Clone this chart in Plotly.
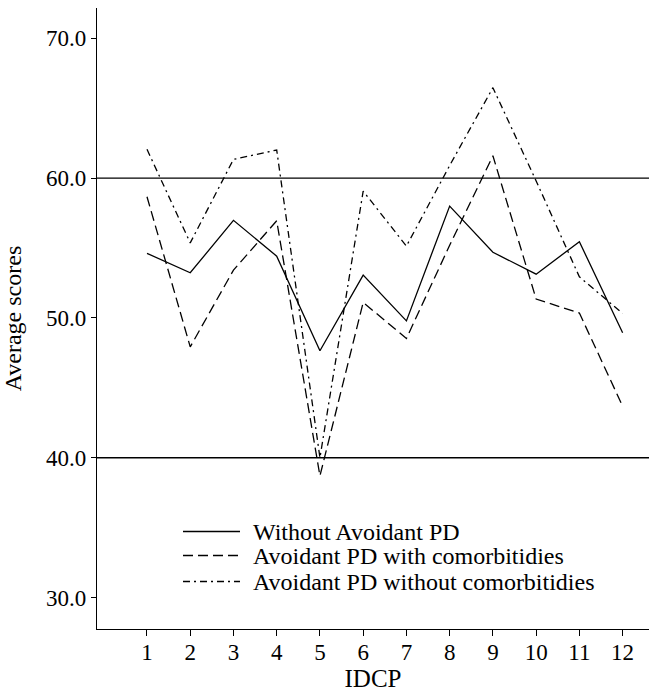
import plotly.graph_objects as go

idcp = list(range(1, 13))
tick_labels = [str(i) for i in idcp]
series_names = ["Without Avoidant PD",
                "Avoidant PD with comorbitidies",
                "Avoidant PD without comorbitidies"]
without_apd = [54.62, 53.23, 56.98, 54.42, 47.65, 53.06, 49.79, 58.0, 54.7, 53.13, 55.45, 48.94]
apd_with = [58.67, 47.93, 53.42, 56.95, 38.7, 51.11, 48.53, 55.2, 61.6, 51.35, 50.35, 43.69]
apd_without = [62.06, 55.37, 61.34, 62.01, 40.0, 59.07, 55.14, 60.9, 66.47, 59.8, 52.94, 50.32]
ref_lines = [60, 40]
y_ticks = [30, 40, 50, 60, 70]

FONT = "Liberation Serif, Times New Roman, serif"
dashes = ["solid", "10px,5px", "7px,4px,2px,4px"]
series = [without_apd, apd_with, apd_without]

fig = go.Figure()
for name, vals, d in zip(series_names, series, dashes):
    fig.add_trace(go.Scatter(x=idcp, y=vals, mode="lines", name=name,
                             line=dict(color="black", width=1.3, dash=d),
                             showlegend=False))

for r in ref_lines:
    fig.add_shape(type="line", xref="paper", yref="y", x0=0, x1=1, y0=r, y1=r,
                  line=dict(color="black", width=1.4))

# manual legend
W, H = 649, 694
ml, mr, mt, mb = 97, 0, 8, 65
pw, ph = W - ml - mr, H - mt - mb
def px_x(px):
    return (px - ml) / pw
def px_y(py):
    return 1 - (py - mt) / ph
leg_rows = [531.5, 555.5, 581.5]
for name, d, yy in zip(series_names, dashes, leg_rows):
    fig.add_shape(type="line", xref="paper", yref="paper",
                  x0=px_x(183), x1=px_x(240), y0=px_y(yy), y1=px_y(yy),
                  line=dict(color="black", width=1.3, dash=d))
    fig.add_annotation(xref="paper", yref="paper", x=px_x(251), y=px_y(yy),
                       text=name, showarrow=False, xanchor="left", yanchor="middle",
                       font=dict(family=FONT, size=24, color="black"))

fig.update_layout(
    width=W, height=H,
    margin=dict(l=ml, r=mr, t=mt, b=mb),
    plot_bgcolor="white", paper_bgcolor="white",
    font=dict(family=FONT, size=23, color="black"),
    xaxis=dict(range=[-0.156, 12.61], tickvals=idcp, ticktext=tick_labels,
               showgrid=False, zeroline=False, showline=True, linecolor="black",
               linewidth=1.4, ticks="outside", ticklen=6, tickwidth=1.2,
               tickcolor="black", tickfont=dict(family=FONT, size=23),
               ticklabelstandoff=-4,
               title=dict(text="IDCP", font=dict(family=FONT, size=25), standoff=4)),
    yaxis=dict(range=[27.75, 72.17], tickvals=y_ticks, tickformat=".1f",
               showgrid=False, zeroline=False, showline=True, linecolor="black",
               linewidth=1.4, ticks="outside", ticklen=5, tickwidth=1.2,
               tickcolor="black", tickfont=dict(family=FONT, size=23),
               title=dict(text="Average scores", font=dict(family=FONT, size=24), standoff=18)),
)

fig.write_html("out.html", post_script="document.body.style.margin='0';",
               config={"displayModeBar": False})
